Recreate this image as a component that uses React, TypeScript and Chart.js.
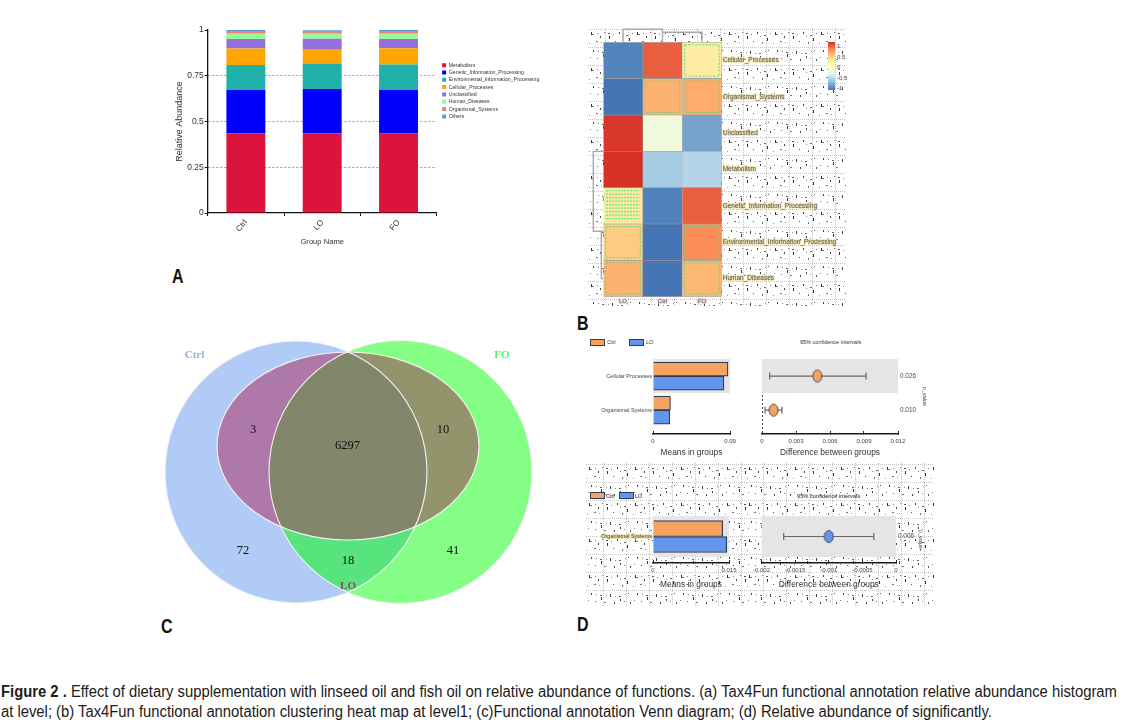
import React, { useEffect, useRef } from "react";
import { Chart, registerables } from "chart.js";

Chart.register(...registerables);

const SANS = "'Liberation Sans',sans-serif";
const SERIF = "'Liberation Serif',serif";
Chart.defaults.font.family = SANS;
Chart.defaults.color = "#333";

// ---------- Panel A ----------
const groups = ["Ctrl", "LO", "FO"];
const functionNames = [
  "Metabolism",
  "Genetic_Information_Processing",
  "Environmental_Information_Processing",
  "Cellular_Processes",
  "Unclassified",
  "Human_Diseases",
  "Organismal_Systems",
  "Others",
];
const functionColors = ["#DC143C", "#0000FF", "#20B2AA", "#FFA500", "#9370DB", "#98FB98", "#F08080", "#5B9BD5"];
const metabolism = [0.434, 0.436, 0.434];
const genetic = [0.2375, 0.241, 0.239];
const environmental = [0.137, 0.137, 0.139];
const cellular = [0.091, 0.082, 0.0876];
const unclassified = [0.051, 0.0566, 0.051];
const humanDiseases = [0.029, 0.027, 0.029];
const organismal = [0.0145, 0.0145, 0.0145];
const others = [0.006, 0.0049, 0.0059];
const abundance = [metabolism, genetic, environmental, cellular, unclassified, humanDiseases, organismal, others];

// ---------- Panel B ----------
const heatColumns = ["LO", "Ctrl", "FO"];
const heatRows = [
  "Cellular_Processes",
  "Organismal_Systems",
  "Unclassified",
  "Metabolism",
  "Genetic_Information_Processing",
  "Environmental_Information_Processing",
  "Human_Diseases",
];
const heatLO = [-1.12, -1.2, 1.17, 1.2, 0.27, 0.5, 0.62];
const heatCtrl = [1.0, 0.62, -0.2, -0.7, -1.13, -1.2, -1.2];
const heatFO = [0.25, 0.65, -0.95, -0.63, 1.0, 0.8, 0.6];
const heatValues = [heatLO, heatCtrl, heatFO];
const heatStops = ["#4575B4", "#91BFDB", "#E0F3F8", "#FFFFBF", "#FEE090", "#FC8D59", "#D73027"];
const colorBarLabels = ["1", "0.5", "0", "-0.5", "-1"];
const ghostCells = [[0, 2], [1, 1], [1, 2], [5, 0], [5, 2], [6, 0], [6, 2]];
const denseGhostCells = [[4, 0]];

// ---------- Panel C ----------
const vennSets = [
  { name: "Ctrl", x: 146, y: 142, rx: 131, ry: 131 },
  { name: "FO", x: 250.5, y: 142, rx: 131.5, ry: 131.5 },
  { name: "LO", x: 198, y: 116, rx: 131, ry: 94 },
];
const vennCounts = [
  { x: 103, y: 100, label: "3" },
  { x: 197.5, y: 116, label: "6297" },
  { x: 293, y: 100, label: "10" },
  { x: 93, y: 221, label: "72" },
  { x: 198, y: 231, label: "18" },
  { x: 303, y: 221, label: "41" },
];
const vennNames = [
  { x: 44.5, y: 25, label: "Ctrl", color: "#8FB3E3" },
  { x: 352, y: 25, label: "FO", color: "#57EE78" },
  { x: 198, y: 256, label: "LO", color: "#8E4B6C" },
];

// ---------- Panel D ----------
const upperTerms = ["Cellular Processes", "Organismal Systems"];
const upperCtrl = [0.0876, 0.0204];
const upperLO = [0.0829, 0.0197];
const upperDiff = [0.00488, 0.00102];
const upperLow = [0.00068, 0.00027];
const upperHigh = [0.00918, 0.00176];
const upperP = ["0.026", "0.010"];
const upperMeanTicks = [0, 0.09];
const upperDiffTicks = [0, 0.003, 0.006, 0.009, 0.012];

const lowerTerms = ["Organismal Systems"];
const lowerCtrl = [0.01375];
const lowerLO = [0.01454];
const lowerDiff = [-0.001];
const lowerLow = [-0.00167];
const lowerHigh = [-0.00033];
const lowerP = ["0.006"];
const lowerMeanTicks = [0, 0.015];
const lowerDiffTicks = [-0.002, -0.0015, -0.001, -0.0005, 0];

// Speck tile imitating the scanning noise behind panels B and D: [x, y, w, h, colour]
const speckTile = [
  [3, 4, 1, 3, "#333"], [4, 6, 2, 1, "#777"], [9, 5, 1, 1, "#888"], [12, 8, 1, 2, "#444"], [16, 4, 1, 1, "#888"],
  [20, 5, 2, 1, "#555"], [21, 8, 1, 3, "#333"], [25, 6, 1, 1, "#888"], [31, 4, 1, 2, "#444"], [34, 8, 1, 1, "#888"],
  [38, 7, 2, 1, "#666"], [41, 10, 1, 3, "#333"], [44, 5, 1, 1, "#888"], [8, 13, 2, 1, "#777"], [13, 14, 1, 1, "#999"],
  [27, 13, 1, 1, "#555"], [36, 14, 1, 2, "#777"], [1, 15, 1, 1, "#999"], [5, 22, 1, 2, "#444"], [10, 23, 1, 1, "#888"],
  [14, 24, 2, 1, "#666"], [15, 26, 1, 3, "#333"], [20, 24, 1, 1, "#999"], [24, 23, 1, 3, "#444"], [29, 25, 1, 1, "#888"],
  [33, 25, 2, 1, "#666"], [34, 28, 1, 2, "#444"], [39, 23, 1, 1, "#888"], [42, 22, 1, 1, "#555"], [2, 29, 1, 1, "#888"],
  [9, 30, 1, 1, "#666"], [18, 31, 2, 1, "#777"], [28, 31, 1, 2, "#444"], [38, 30, 1, 1, "#888"], [44, 31, 1, 2, "#555"],
];

function hexToRgb(h: string) {
  return [parseInt(h.slice(1, 3), 16), parseInt(h.slice(3, 5), 16), parseInt(h.slice(5, 7), 16)];
}
function heatColor(z: number) {
  const t = Math.max(0, Math.min(0.9999, (z + 1.2) / 2.4)) * (heatStops.length - 1);
  const i = Math.floor(t);
  const f = t - i;
  const a = hexToRgb(heatStops[i]);
  const b = hexToRgb(heatStops[i + 1]);
  return `rgb(${a.map((v, k) => Math.round(v + (b[k] - v) * f)).join(",")})`;
}

function makeTile() {
  const c = document.createElement("canvas");
  c.width = 46;
  c.height = 36;
  const g = c.getContext("2d")!;
  g.fillStyle = "#fff";
  g.fillRect(0, 0, 46, 36);
  g.fillStyle = "#C4C4C4";
  for (let x = 0; x < 46; x += 2) {
    g.fillRect(x, 1, 1, 1);
    g.fillRect(x, 19, 1, 1);
  }
  for (let y = 0; y < 36; y += 2) {
    g.fillRect(17, y, 1, 1);
    g.fillRect(40, y, 1, 1);
  }
  speckTile.forEach(([x, y, w, h, col]) => {
    g.fillStyle = col as string;
    g.fillRect(x as number, y as number, w as number, h as number);
  });
  return c;
}

const noisePlugin = {
  id: "noise",
  beforeDraw(chart: any) {
    const ctx = chart.ctx;
    ctx.save();
    ctx.fillStyle = ctx.createPattern(makeTile(), "repeat");
    ctx.fillRect(0, 0, chart.width, chart.height);
    ctx.restore();
  },
};

const bandPlugin = {
  id: "band",
  beforeDatasetsDraw(chart: any) {
    const { ctx, chartArea, scales } = chart;
    const y0 = scales.y.getPixelForValue(-0.5);
    const y1 = scales.y.getPixelForValue(0.5);
    ctx.save();
    ctx.fillStyle = "#E5E5E5";
    ctx.fillRect(chartArea.left, y0, chartArea.right - chartArea.left, y1 - y0);
    ctx.restore();
  },
};

const legendMovePlugin = {
  id: "legendMove",
  afterLayout(chart: any) {
    const l = chart.legend;
    l.left = 280;
    l.right = 400;
    l.top = 40.4;
    l.bottom = 104;
  },
};

function fixedWidth(w: number) {
  return (s: any) => {
    s.width = w;
  };
}
function fixedHeight(h: number) {
  return (s: any) => {
    s.height = h;
  };
}

function stackedConfig(): any {
  return {
    type: "bar",
    data: {
      labels: groups,
      datasets: functionNames.map((n, i) => ({
        label: n,
        data: abundance[i],
        backgroundColor: functionColors[i],
        barPercentage: 1,
        categoryPercentage: 0.51,
      })),
    },
    plugins: [legendMovePlugin],
    options: {
      responsive: false,
      animation: false,
      layout: { padding: { top: 10, left: 0, right: 123.3, bottom: 0 } },
      plugins: {
        tooltip: { enabled: false },
        legend: {
          position: "chartArea",
          align: "start",
          labels: { boxWidth: 4, boxHeight: 4, padding: 2.13, font: { size: 5.2 }, color: "#333" },
        },
      },
      scales: {
        x: {
          stacked: true,
          afterFit: fixedHeight(42),
          grid: { display: true, drawOnChartArea: false, offset: true, tickLength: 3, tickColor: "#111" },
          border: { color: "#111", width: 1.3 },
          ticks: { minRotation: 50, maxRotation: 50, font: { size: 8 }, padding: 2, color: "#333" },
          title: { display: true, text: "Group Name", font: { size: 7.6 }, color: "#333", padding: { top: 0, bottom: 9 } },
        },
        y: {
          stacked: true,
          min: 0,
          max: 1,
          afterFit: fixedWidth(47.7),
          afterBuildTicks: (s: any) => {
            s.ticks = [0, 0.25, 0.5, 0.75, 1].map((value) => ({ value }));
          },
          grid: {
            color: (c: any) => (c.tick && (c.tick.value === 0 || c.tick.value === 1) ? "transparent" : "#999"),
            tickColor: "#111",
            tickLength: 3,
          },
          border: { color: "#111", width: 1.3, dash: [2, 2] },
          ticks: { font: { size: 8.5 }, padding: 1, color: "#333", callback: (v: any) => String(v) },
          title: { display: true, text: "Relative Abundance", font: { size: 9 }, color: "#333", padding: { top: 14, bottom: 0 } },
        },
      },
    },
  };
}

const ghostPlugin = {
  id: "ghost",
  afterDatasetsDraw(chart: any) {
    const { ctx, scales } = chart;
    const rect = (r: number, c: number) => {
      const l = scales.x.getPixelForValue(c);
      const rr = scales.x.getPixelForValue(c + 1);
      const t = scales.y.getPixelForValue(r - 0.5);
      const b = scales.y.getPixelForValue(r + 0.5);
      return [l, t, rr - l, b - t];
    };
    ctx.save();
    ctx.lineWidth = 1;
    ctx.strokeStyle = "#62D68C";
    ctx.setLineDash([2, 1.5]);
    ghostCells.forEach(([r, c]) => {
      const [x, y, w, h] = rect(r, c);
      ctx.strokeRect(x + 2.5, y + 2.5, w - 5, h - 5);
    });
    ctx.strokeStyle = "#2EE59A";
    ctx.lineWidth = 1.4;
    ctx.setLineDash([1.5, 1.5]);
    denseGhostCells.forEach(([r, c]) => {
      const [x, y, w, h] = rect(r, c);
      for (let yy = y + 3; yy < y + h - 2; yy += 3.5) {
        ctx.beginPath();
        ctx.moveTo(x + 3, yy);
        ctx.lineTo(x + w - 3, yy);
        ctx.stroke();
      }
    });
    // dendrogram branches
    ctx.setLineDash([]);
    ctx.strokeStyle = "#A8A8A8";
    ctx.lineWidth = 1.4;
    const a = chart.chartArea;
    const cw = (a.right - a.left) / 3;
    const rh = (a.bottom - a.top) / 7;
    const seg = (pts: number[][]) => {
      ctx.beginPath();
      pts.forEach(([x, y], i) => (i ? ctx.lineTo(x, y) : ctx.moveTo(x, y)));
      ctx.stroke();
    };
    seg([[a.left + cw * 0.5, a.top], [a.left + cw * 0.5, a.top - 13], [a.left + cw * 1.5, a.top - 13], [a.left + cw * 1.5, a.top]]);
    seg([[a.left + cw * 1.5, a.top - 10], [a.left + cw * 2.5, a.top - 10], [a.left + cw * 2.5, a.top]]);
    seg([[a.left, a.top + rh * 3], [a.left - 10, a.top + rh * 3], [a.left - 10, a.top + rh * 5.2], [a.left, a.top + rh * 5.2]]);
    seg([[a.left - 2, a.top + rh * 5.2], [a.left - 2, a.top + rh * 6.5], [a.left, a.top + rh * 6.5]]);
    ctx.restore();
  },
};

function heatConfig(): any {
  return {
    type: "bar",
    data: {
      labels: heatRows,
      datasets: heatColumns.map((name, c) => ({
        label: name,
        data: heatRows.map((_, r) => ({ x: 1, y: r })),
        backgroundColor: heatRows.map((_, r) => heatColor(heatValues[c][r])),
        borderColor: "#9A9A9A",
        borderWidth: 0.6,
        barPercentage: 1,
        categoryPercentage: 1,
      })),
    },
    plugins: [noisePlugin, ghostPlugin],
    options: {
      indexAxis: "y",
      responsive: false,
      animation: false,
      layout: { padding: { top: 14.3, left: 15.3 } },
      plugins: { legend: { display: false }, tooltip: { enabled: false } },
      scales: {
        x: {
          stacked: true,
          min: 0,
          max: 3,
          afterFit: fixedHeight(9.3),
          afterBuildTicks: (s: any) => {
            s.ticks = [0.5, 1.5, 2.5].map((value) => ({ value }));
          },
          grid: { display: false, drawTicks: false },
          border: { display: false },
          ticks: {
            font: { size: 6 },
            padding: 1,
            color: "#666",
            textStrokeColor: "#E9C8E8",
            textStrokeWidth: 1.5,
            callback: (v: any) => heatColumns[Math.floor(v)],
          },
        },
        y: {
          type: "linear",
          stacked: true,
          offset: false,
          position: "right",
          reverse: true,
          min: -0.5,
          max: 6.5,
          afterFit: fixedWidth(124.3),
          afterBuildTicks: (s: any) => {
            s.ticks = heatRows.map((_, value) => ({ value }));
          },
          grid: { display: false, drawTicks: false, offset: false },
          border: { display: false },
          ticks: {
            font: { size: 6.5 },
            padding: 1,
            color: "#555",
            textStrokeColor: "#EEDFA8",
            textStrokeWidth: 1.5,
            callback: (v: any) => heatRows[v],
          },
        },
      },
    },
  };
}

function vennPath(chart: any, s: any) {
  const { x, y } = chart.scales;
  const cx = x.getPixelForValue(s.x);
  const cy = y.getPixelForValue(s.y);
  const rx = Math.abs(x.getPixelForValue(s.x + s.rx) - cx);
  const ry = Math.abs(y.getPixelForValue(s.y + s.ry) - cy);
  const p = new Path2D();
  p.ellipse(cx, cy, rx, ry, 0, 0, Math.PI * 2);
  return p;
}

const vennPlugin = {
  id: "venn",
  beforeDatasetsDraw(chart: any) {
    const ctx = chart.ctx;
    const [ctrl, fo, lo] = vennSets.map((s) => vennPath(chart, s));
    const fill = (clips: Path2D[], shape: Path2D, color: string) => {
      ctx.save();
      clips.forEach((c) => ctx.clip(c));
      ctx.fillStyle = color;
      ctx.fill(shape);
      ctx.restore();
    };
    fill([], ctrl, "#B0CBF5");
    fill([], fo, "#85FE85");
    fill([ctrl], fo, "#58E47C");
    fill([ctrl], lo, "#AE78A8");
    fill([fo], lo, "#94946C");
    fill([ctrl, fo], lo, "#82866A");
    ctx.save();
    ctx.strokeStyle = "#F4F4F4";
    ctx.lineWidth = 1.1;
    [ctrl, fo, lo].forEach((p) => ctx.stroke(p));
    ctx.restore();
  },
  afterDatasetsDraw(chart: any) {
    const { ctx, scales } = chart;
    ctx.save();
    ctx.textAlign = "center";
    ctx.textBaseline = "middle";
    ctx.font = `12.5px ${SERIF}`;
    ctx.fillStyle = "#111";
    vennCounts.forEach((d) => ctx.fillText(d.label, scales.x.getPixelForValue(d.x), scales.y.getPixelForValue(d.y)));
    ctx.font = `bold 11px ${SERIF}`;
    vennNames.forEach((d) => {
      ctx.fillStyle = d.color;
      ctx.fillText(d.label, scales.x.getPixelForValue(d.x), scales.y.getPixelForValue(d.y));
    });
    ctx.restore();
  },
};

function vennConfig(): any {
  return {
    type: "scatter",
    data: {
      datasets: [
        {
          label: "Venn",
          data: vennSets.map((s) => ({ x: s.x, y: s.y })),
          pointRadius: 0,
        },
      ],
    },
    plugins: [vennPlugin],
    options: {
      responsive: false,
      animation: false,
      plugins: { legend: { display: false }, tooltip: { enabled: false } },
      scales: {
        x: { display: false, min: 0, max: 400 },
        y: { display: false, min: 0, max: 285, reverse: true },
      },
    },
  };
}

function xAxisInward(ticks: number[], title: string, height: number, titleBottom: number, min: number, max: number, fmt: (v: number) => string, zeroDash = false): any {
  return {
    min,
    max,
    afterFit: fixedHeight(height),
    afterBuildTicks: (s: any) => {
      s.ticks = ticks.map((value) => ({ value }));
    },
    grid: zeroDash
      ? {
          color: (c: any) => (c.tick && c.tick.value === 0 ? "#444" : "transparent"),
          tickColor: "#222",
          tickLength: -3,
        }
      : { drawOnChartArea: false, tickColor: "#222", tickLength: -3 },
    border: { color: "#1A1A1A", width: 1.6, ...(zeroDash ? { dash: [2, 2] } : {}) },
    ticks: {
      autoSkip: false,
      maxRotation: 0,
      font: { size: 6 },
      padding: 7,
      color: "#444",
      callback: (v: any) => fmt(v),
    },
    title: { display: true, text: title, font: { size: 8.4 }, color: "#333", padding: { top: 0, bottom: titleBottom } },
  };
}

function meansConfig(opts: {
  terms: string[];
  ctrl: number[];
  lo: number[];
  ticks: number[];
  maxX: number;
  barThickness: number;
  yMax: number;
  yWidth: number;
  padTop: number;
  padRight: number;
  xHeight: number;
  titleBottom: number;
  noise: boolean;
}): any {
  const ds = (label: string, vals: number[], color: string) => ({
    label,
    data: vals.map((x, y) => ({ x, y })),
    backgroundColor: color,
    borderColor: "#2D3E5A",
    borderWidth: 1.2,
    barThickness: opts.barThickness,
  });
  return {
    type: "bar",
    data: { datasets: [ds("Ctrl", opts.ctrl, "#F4A460"), ds("LO", opts.lo, "#6495ED")] },
    plugins: opts.noise ? [noisePlugin, bandPlugin] : [bandPlugin],
    options: {
      indexAxis: "y",
      responsive: false,
      animation: false,
      layout: { padding: { top: opts.padTop, right: opts.padRight } },
      plugins: { legend: { display: false }, tooltip: { enabled: false } },
      scales: {
        x: xAxisInward(opts.ticks, "Means in groups", opts.xHeight, opts.titleBottom, 0, opts.maxX, (v) => String(v)),
        y: {
          type: "linear",
          offset: false,
          reverse: true,
          min: -0.5,
          max: opts.yMax,
          afterFit: fixedWidth(opts.yWidth),
          afterBuildTicks: (s: any) => {
            s.ticks = opts.terms.map((_, value) => ({ value }));
          },
          grid: { display: false, drawTicks: false, offset: false },
          border: { display: false },
          ticks: {
            font: { size: 5.5 },
            padding: 1,
            color: "#444",
            ...(opts.noise ? { textStrokeColor: "#EEDFA8", textStrokeWidth: 1.5 } : {}),
            callback: (v: any) => opts.terms[v],
          },
        },
      },
    },
  };
}

function ellipseMark(color: string) {
  const c = document.createElement("canvas");
  c.width = 11;
  c.height = 15;
  const g = c.getContext("2d")!;
  g.beginPath();
  g.ellipse(5.5, 7.5, 4.5, 6, 0, 0, Math.PI * 2);
  g.fillStyle = color;
  g.fill();
  g.lineWidth = 0.9;
  g.strokeStyle = "#3A3F4A";
  g.stroke();
  return c;
}

function diffConfig(opts: {
  diff: number[];
  low: number[];
  high: number[];
  p: string[];
  ticks: number[];
  min: number;
  max: number;
  color: string;
  yMax: number;
  padTop: number;
  padLeft: number;
  yRight: number;
  xHeight: number;
  titleBottom: number;
  pTitleOffset: number;
  noise: boolean;
  zeroDash: boolean;
}): any {
  const mark = ellipseMark(opts.color);
  return {
    type: "scatter",
    data: {
      datasets: [
        {
          label: "Difference",
          data: opts.diff.map((x, y) => ({ x, y })),
          pointStyle: mark,
          pointRadius: 6,
        },
        ...opts.diff.map((_, y) => ({
          label: "95% CI",
          data: [
            { x: opts.low[y], y },
            { x: opts.high[y], y },
          ],
          showLine: true,
          borderColor: "#666",
          borderWidth: 1.2,
          pointStyle: "line",
          pointRotation: 90,
          pointRadius: 3.5,
          pointBorderColor: "#666",
          pointBorderWidth: 1.2,
        })),
      ],
    },
    plugins: opts.noise ? [noisePlugin, bandPlugin] : [bandPlugin],
    options: {
      responsive: false,
      animation: false,
      layout: { padding: { top: opts.padTop, left: opts.padLeft } },
      plugins: { legend: { display: false }, tooltip: { enabled: false } },
      scales: {
        x: xAxisInward(opts.ticks, "Difference between groups", opts.xHeight, opts.titleBottom, opts.min, opts.max, (v) => String(v), opts.zeroDash),
        y: {
          type: "linear",
          position: "right",
          reverse: true,
          min: -0.5,
          max: opts.yMax,
          afterFit: fixedWidth(opts.yRight),
          afterBuildTicks: (s: any) => {
            s.ticks = opts.p.map((_, value) => ({ value }));
          },
          grid: { display: false, drawTicks: false },
          border: { display: false },
          ticks: {
            font: { size: 6.4 },
            padding: 2,
            color: "#444",
            callback: (v: any) => opts.p[v],
          },
          title: { display: true, text: "p_value", font: { size: 5.5 }, color: "#444", padding: { top: opts.pTitleOffset, bottom: 0 } },
        },
      },
    },
  };
}

function ChartBox({ left, top, width, height, make }: { left: number; top: number; width: number; height: number; make: () => any }) {
  const ref = useRef<HTMLCanvasElement>(null);
  useEffect(() => {
    const chart = new Chart(ref.current!, make());
    return () => chart.destroy();
  }, []);
  return <canvas ref={ref} width={width} height={height} style={{ position: "absolute", left, top, width, height }} />;
}

function Txt({ left, top, size, children, style }: any) {
  return (
    <div style={{ position: "absolute", left, top, fontSize: size, fontFamily: SANS, color: "#333", whiteSpace: "nowrap", lineHeight: 1, ...style }}>
      {children}
    </div>
  );
}

function Swatch({ left, top, color }: any) {
  return (
    <div
      style={{
        position: "absolute",
        left,
        top,
        width: 15,
        height: 7,
        boxSizing: "border-box",
        background: color,
        border: "1px solid #2D3E5A",
      }}
    />
  );
}

const letterStyle = { fontWeight: 700, color: "#111", transform: "scaleX(0.8)", transformOrigin: "left top" };
const captionStyle = { color: "#1a1a1a", transform: "scaleX(0.925)", transformOrigin: "left top" };

export default function App() {
  const halo = "0 0 2px #EFC8E8, 0 0 2px #C8EFD8";
  return (
    <div style={{ position: "absolute", left: 0, top: 0, width: 1124, height: 728, background: "#fff", overflow: "hidden" }}>
      <ChartBox left={160} top={20} width={400} height={235} make={stackedConfig} />
      <ChartBox left={588} top={28} width={258} height={278} make={heatConfig} />
      <div style={{ position: "absolute", left: 828, top: 42, width: 7, height: 48, background: `linear-gradient(to top, ${heatStops.join(",")})` }} />
      {colorBarLabels.map((t, i) => (
        <Txt key={t} left={837} top={43 + i * 10.5} size={6} style={{ color: "#555", textShadow: halo }}>
          {t}
        </Txt>
      ))}
      <ChartBox left={150} top={330} width={400} height={285} make={vennConfig} />

      {/* Panel D upper */}
      <ChartBox
        left={586}
        top={350}
        width={160}
        height={110}
        make={() =>
          meansConfig({
            terms: upperTerms,
            ctrl: upperCtrl,
            lo: upperLO,
            ticks: upperMeanTicks,
            maxX: 0.09,
            barThickness: 14,
            yMax: 1.7,
            yWidth: 67,
            padTop: 9,
            padRight: 16,
            xHeight: 26,
            titleBottom: 2,
            noise: false,
          })
        }
      />
      <ChartBox
        left={746}
        top={350}
        width={190}
        height={110}
        make={() =>
          diffConfig({
            diff: upperDiff,
            low: upperLow,
            high: upperHigh,
            p: upperP,
            ticks: upperDiffTicks,
            min: 0,
            max: 0.012,
            color: "#F4A460",
            yMax: 1.7,
            padTop: 9,
            padLeft: 16,
            yRight: 38,
            xHeight: 26,
            titleBottom: 2,
            pTitleOffset: 8,
            noise: false,
            zeroDash: true,
          })
        }
      />
      <Swatch left={590} top={339} color="#F4A460" />
      <Txt left={607} top={340} size={5.5}>Ctrl</Txt>
      <Swatch left={629} top={339} color="#6495ED" />
      <Txt left={646} top={340} size={5.5}>LO</Txt>
      <Txt left={800} top={340} size={5.5}>95% confidence intervals</Txt>

      {/* Panel D lower */}
      <ChartBox
        left={586}
        top={463}
        width={160}
        height={143}
        make={() =>
          meansConfig({
            terms: lowerTerms,
            ctrl: lowerCtrl,
            lo: lowerLO,
            ticks: lowerMeanTicks,
            maxX: 0.015,
            barThickness: 16,
            yMax: 0.646,
            yWidth: 67,
            padTop: 53,
            padRight: 17,
            xHeight: 43,
            titleBottom: 16,
            noise: true,
          })
        }
      />
      <ChartBox
        left={746}
        top={463}
        width={188}
        height={143}
        make={() =>
          diffConfig({
            diff: lowerDiff,
            low: lowerLow,
            high: lowerHigh,
            p: lowerP,
            ticks: lowerDiffTicks,
            min: -0.002,
            max: 0,
            color: "#6495ED",
            yMax: 0.646,
            padTop: 53,
            padLeft: 15,
            yRight: 38,
            xHeight: 43,
            titleBottom: 16,
            pTitleOffset: 10,
            noise: true,
            zeroDash: false,
          })
        }
      />
      <Swatch left={590} top={492} color="#F4A460" />
      <Txt left={606} top={494} size={5.5} style={{ textShadow: halo }}>Ctrl</Txt>
      <Swatch left={619} top={492} color="#6495ED" />
      <Txt left={635} top={494} size={5.5} style={{ textShadow: halo }}>LO</Txt>
      <Txt left={797} top={494} size={5.7} style={{ textShadow: halo }}>95% confidence intervals</Txt>

      {/* Panel letters */}
      <Txt left={172} top={266} size={20} style={letterStyle}>A</Txt>
      <Txt left={577} top={313} size={20} style={letterStyle}>B</Txt>
      <Txt left={161} top={616} size={20} style={letterStyle}>C</Txt>
      <Txt left={577} top={614} size={20} style={letterStyle}>D</Txt>

      {/* Caption */}
      <Txt left={1} top={684} size={16} style={captionStyle}>
        <b>Figure 2 .</b> Effect of dietary supplementation with linseed oil and fish oil on relative abundance of functions. (a) Tax4Fun functional annotation relative abundance histogram
      </Txt>
      <Txt left={1} top={704} size={16} style={captionStyle}>
        at level; (b) Tax4Fun functional annotation clustering heat map at level1; (c)Functional annotation Venn diagram; (d) Relative abundance of significantly.
      </Txt>
    </div>
  );
}
